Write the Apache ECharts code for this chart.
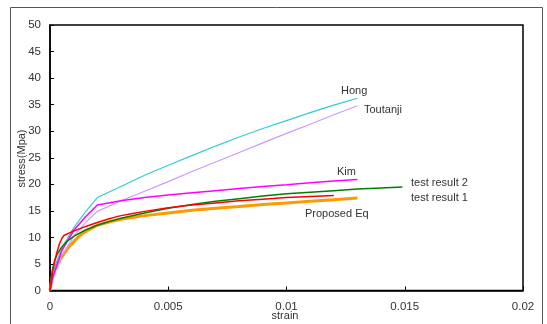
<!DOCTYPE html>
<html>
<head>
<meta charset="utf-8">
<script src="https://cdn.jsdelivr.net/npm/echarts@6/dist/echarts.min.js"></script>
<style>html,body{margin:0;padding:0;background:#fff}#c{width:547px;height:324px}</style>
</head>
<body>
<div id="c"></div>
<script>
// Strain values (x) and stress values (y) per series
const hongX = [0, 0.0001, 0.0002, 0.0005, 0.001, 0.0015, 0.002, 0.003, 0.004, 0.005, 0.006, 0.007, 0.008, 0.009, 0.010, 0.011, 0.012, 0.013];
const hongY = [0, 2.5, 4.5, 8.0, 11.8, 14.8, 17.5, 19.6, 21.7, 23.6, 25.4, 27.2, 28.9, 30.5, 32.0, 33.5, 34.9, 36.2];

const toutanjiX = [0, 0.0001, 0.0002, 0.0005, 0.001, 0.0015, 0.002, 0.003, 0.004, 0.005, 0.006, 0.007, 0.008, 0.009, 0.010, 0.011, 0.012, 0.013];
const toutanjiY = [0, 2.0, 3.2, 6.5, 10.2, 12.8, 14.9, 16.9, 18.7, 20.5, 22.4, 24.2, 26.0, 27.8, 29.6, 31.3, 33.1, 34.8];

const kimX = [0, 0.0001, 0.0002, 0.0005, 0.001, 0.0015, 0.002, 0.003, 0.004, 0.005, 0.006, 0.007, 0.008, 0.009, 0.010, 0.011, 0.012, 0.013];
const kimY = [0, 2.2, 3.6, 7.5, 11.3, 13.9, 16.1, 16.9, 17.5, 18.0, 18.4, 18.8, 19.2, 19.6, 19.9, 20.3, 20.6, 20.9];

const test1X = [0, 0.0001, 0.0002, 0.0003, 0.0004, 0.0005, 0.0006, 0.0008, 0.001, 0.0013, 0.0016, 0.002, 0.0025, 0.003, 0.0035, 0.004, 0.005, 0.006, 0.007, 0.008, 0.009, 0.010, 0.011, 0.012];
const test1Y = [0, 3.5, 5.5, 7.3, 8.8, 9.8, 10.4, 10.8, 11.2, 11.7, 12.2, 12.8, 13.5, 14.1, 14.5, 14.9, 15.6, 16.1, 16.5, 16.9, 17.2, 17.5, 17.7, 17.9];

const test2X = [0, 0.0001, 0.0002, 0.0003, 0.0005, 0.0007, 0.001, 0.0015, 0.002, 0.0025, 0.003, 0.004, 0.005, 0.006, 0.007, 0.008, 0.009, 0.010, 0.011, 0.012, 0.013, 0.014, 0.0149];
const test2Y = [0, 3.8, 5.7, 6.8, 8.2, 9.2, 10.2, 11.4, 12.3, 13.0, 13.6, 14.6, 15.5, 16.2, 16.8, 17.3, 17.8, 18.2, 18.5, 18.8, 19.1, 19.3, 19.5];

const propX = [0, 0.0001, 0.0002, 0.0004, 0.0006, 0.0008, 0.001, 0.0012, 0.0015, 0.002, 0.0025, 0.003, 0.004, 0.005, 0.006, 0.007, 0.008, 0.009, 0.010, 0.011, 0.012, 0.013];
const propY = [0, 2.8, 3.9, 5.6, 7.0, 8.2, 9.2, 10.1, 11.1, 12.3, 12.9, 13.4, 14.1, 14.6, 15.1, 15.5, 15.8, 16.2, 16.5, 16.8, 17.1, 17.4];

const xTicks = [0, 0.005, 0.01, 0.015, 0.02];
const yTicks = [0, 5, 10, 15, 20, 25, 30, 35, 40, 45, 50];

const pairs = (xs, ys) => xs.map((x, i) => [x, ys[i]]);

const chart = echarts.init(document.getElementById('c'), null, {renderer: 'canvas'});
const FONT = '"Liberation Sans", Arial, sans-serif';
const mk = (name, xs, ys, color, w) => ({
  name, type: 'line', data: pairs(xs, ys), showSymbol: false, symbol: 'none',
  lineStyle: {color, width: w}, itemStyle: {color}, smooth: false, animation: false, z: 3
});

chart.setOption({
  animation: false,
  grid: {left: 50, top: 25, right: 24, bottom: 33.5, show: true, borderColor: '#000', borderWidth: 1.5,
         containLabel: false, outerBoundsMode: 'none'},
  xAxis: {
    type: 'value', min: xTicks[0], max: xTicks[xTicks.length - 1], interval: 0.005,
    axisLine: {show: true, lineStyle: {color: '#000', width: 1.5}},
    axisTick: {show: true, inside: true, length: 4, lineStyle: {color: '#000'}},
    axisLabel: {fontFamily: FONT, fontSize: 11.5, color: '#333', margin: 10,
      formatter: v => { const t = xTicks.find(k => Math.abs(k - v) < 1e-9); return t === undefined ? '' : String(t); }},
    splitLine: {show: false}
  },
  yAxis: {
    type: 'value', min: yTicks[0], max: yTicks[yTicks.length - 1], interval: 5,
    axisLine: {show: true, lineStyle: {color: '#000', width: 1.5}},
    axisTick: {show: true, inside: true, length: 4, lineStyle: {color: '#000'}},
    axisLabel: {fontFamily: FONT, fontSize: 11.5, color: '#333', margin: 9},
    splitLine: {show: false}
  },
  series: [
    mk('Proposed Eq', propX, propY, '#FF9900', 3),
    mk('Hong', hongX, hongY, '#33CCCC', 1.2),
    mk('Toutanji', toutanjiX, toutanjiY, '#CC99FF', 1.2),
    mk('Kim', kimX, kimY, '#FF00FF', 1.5),
    mk('test result 2', test2X, test2Y, '#008000', 1.5),
    mk('test result 1', test1X, test1Y, '#FF0000', 1.5)
  ],
  graphic: [
    {type: 'rect', shape: {x: 10.5, y: 7.5, width: 532, height: 340}, style: {fill: 'none', stroke: '#555', lineWidth: 1}, silent: true, z: 0},
    {type: 'text', x: 22, y: 158.5, rotation: Math.PI / 2, style: {text: 'stress(Mpa)', font: '11px ' + FONT, fill: '#333', align: 'center', verticalAlign: 'middle'}},
    {type: 'text', x: 285, y: 315.5, style: {text: 'strain', font: '11px ' + FONT, fill: '#333', align: 'center', verticalAlign: 'middle'}},
    {type: 'text', left: 341, top: 85, style: {text: 'Hong', font: '11px ' + FONT, fill: '#333'}},
    {type: 'text', left: 364, top: 104, style: {text: 'Toutanji', font: '11px ' + FONT, fill: '#333'}},
    {type: 'text', left: 337, top: 166.5, style: {text: 'Kim', font: '11px ' + FONT, fill: '#333'}},
    {type: 'text', left: 411, top: 177, style: {text: 'test result 2', font: '11px ' + FONT, fill: '#333'}},
    {type: 'text', left: 411, top: 192, style: {text: 'test result 1', font: '11px ' + FONT, fill: '#333'}},
    {type: 'text', left: 305, top: 208, style: {text: 'Proposed Eq', font: '11px ' + FONT, fill: '#333'}}
  ]
});
</script>
</body>
</html>
